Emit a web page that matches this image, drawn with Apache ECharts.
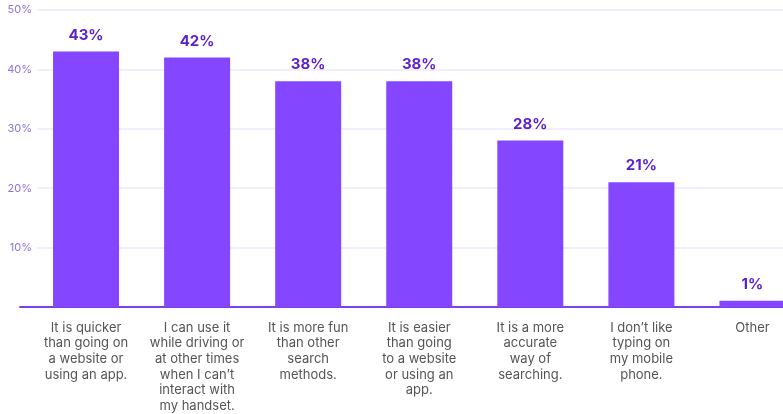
<!DOCTYPE html>
<html>
<head>
<meta charset="utf-8">
<script src="https://cdn.jsdelivr.net/npm/echarts@6/dist/echarts.min.js"></script>
<style>
  html, body { margin: 0; padding: 0; background: #ffffff; overflow: hidden; width: 783px; height: 414px; }
  /* canvas runs a little past the right edge so the last column is cut off */
  #chart { width: 808px; height: 414px; }
</style>
</head>
<body>
<div id="chart"></div>
<script>
// Reasons people give for using voice search
const categories = [
  'It is quicker\nthan going on\na website or\nusing an app.',
  'I can use it\nwhile driving or\nat other times\nwhen I can\u2019t\ninteract with\nmy handset.',
  'It is more fun\nthan other\nsearch\nmethods.',
  'It is easier\nthan going\nto a website\nor using an\napp.',
  'It is a more\naccurate\nway of\nsearching.',
  'I don\u2019t like\ntyping on\nmy mobile\nphone.',
  'Other'
];
const shares = [43, 42, 38, 38, 28, 21, 1];
const yTicks = [0, 10, 20, 30, 40, 50];

const yMin = yTicks[0];
const yMax = yTicks[yTicks.length - 1];
const yStep = yTicks[1] - yTicks[0];

const PURPLE = '#8447ff';
const LABEL_PURPLE = '#5b22cc';
const TICK_PURPLE = '#8f72dc';
const GRID_LAVENDER = '#eee8ff';
const AXIS_PURPLE = '#7c41ec';
const TEXT_GREY = '#555555';

const chart = echarts.init(document.getElementById('chart'), null, { renderer: 'canvas' });

const gridTop = 10, gridBottom = 107;

chart.setOption({
  backgroundColor: '#ffffff',
  animation: false,
  grid: [
    // baseline strip
    { left: 20, right: 25, top: gridTop, bottom: gridBottom },
    // gridlines + percentage labels
    { left: 37, right: 25, top: gridTop, bottom: gridBottom },
    // bars and category labels
    { left: 30.5, right: 0, top: gridTop, bottom: gridBottom }
  ],
  xAxis: [
    {
      gridIndex: 0, type: 'category', data: categories,
      axisLine: { show: true, lineStyle: { color: AXIS_PURPLE, width: 2 } },
      axisTick: { show: false }, axisLabel: { show: false }, splitLine: { show: false }
    },
    {
      gridIndex: 1, type: 'category', data: categories, show: false
    },
    {
      gridIndex: 2, type: 'category', data: categories,
      axisLine: { show: false }, axisTick: { show: false },
      axisLabel: {
        interval: 0, margin: 13,
        color: TEXT_GREY, fontFamily: 'Inter', fontSize: 13, lineHeight: 15.7,
        align: 'center'
      }
    }
  ],
  yAxis: [
    { gridIndex: 0, type: 'value', min: yMin, max: yMax, interval: yStep, show: false },
    {
      gridIndex: 1, type: 'value', min: yMin, max: yMax, interval: yStep,
      axisLine: { show: false }, axisTick: { show: false },
      axisLabel: {
        showMinLabel: false, margin: 5,
        color: TICK_PURPLE, fontFamily: 'Inter', fontSize: 11,
        formatter: v => v + '%'
      },
      splitLine: { show: true, lineStyle: { color: GRID_LAVENDER, width: 1.5 } }
    },
    { gridIndex: 2, type: 'value', min: yMin, max: yMax, interval: yStep, show: false }
  ],
  series: [{
    type: 'bar',
    xAxisIndex: 2, yAxisIndex: 2,
    data: shares,
    barWidth: 66,
    itemStyle: { color: PURPLE },
    label: {
      show: true, position: 'top', distance: 9,
      color: LABEL_PURPLE, fontFamily: 'Inter', fontWeight: 700, fontSize: 15,
      formatter: p => p.value + '%'
    }
  }]
});
</script>
</body>
</html>
